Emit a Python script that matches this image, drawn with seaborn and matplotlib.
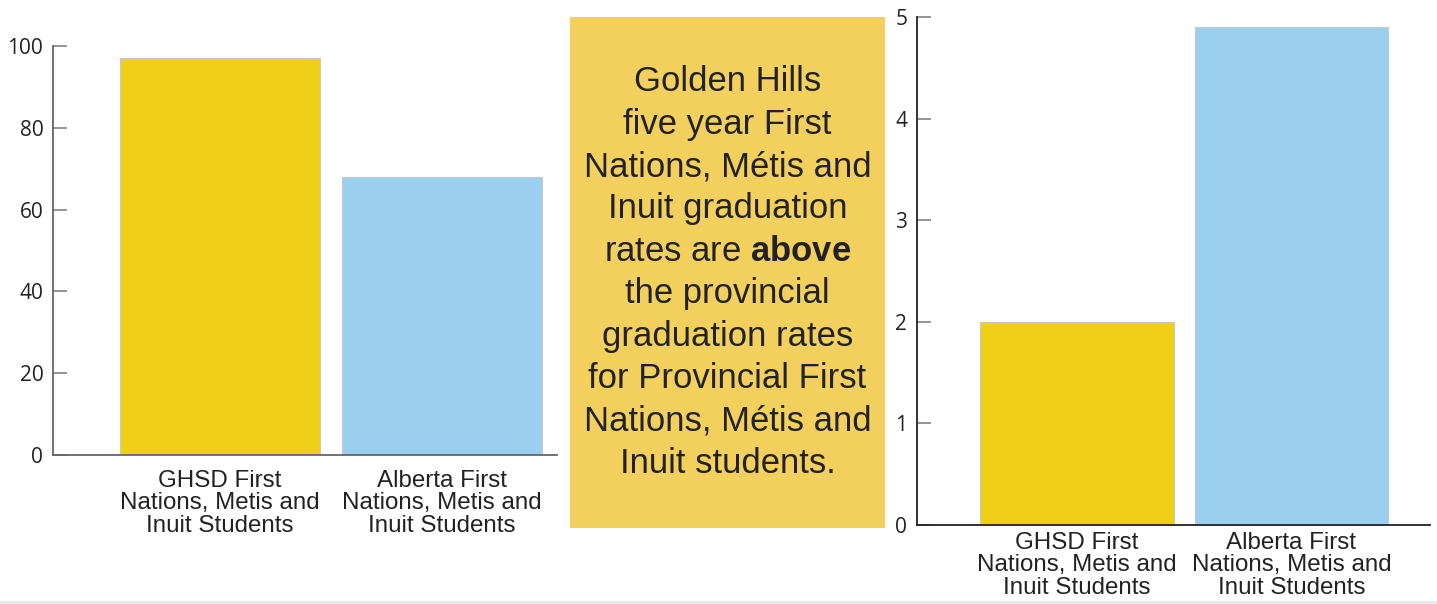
import matplotlib
matplotlib.use("Agg")
import matplotlib.pyplot as plt
import seaborn as sns
import pandas as pd
from matplotlib.patches import Rectangle

# ---- data ----
categories = ["GHSD First\nNations, Metis and\nInuit Students",
              "Alberta First\nNations, Metis and\nInuit Students"]
left_values = [97, 68]     # five-year graduation rate (%)
right_values = [2.0, 4.9]  # second chart values
bar_colors = ["#F0D016", "#9BCFEF"]
left_yticks = [0, 20, 40, 60, 80, 100]
right_yticks = [0, 1, 2, 3, 4, 5]
box_lines = ["Golden Hills", "five year First", "Nations, Métis and",
             "Inuit graduation", r"rates are $\mathbf{above}$", "the provincial",
             "graduation rates", "for Provincial First", "Nations, Métis and",
             "Inuit students."]

sns.set_theme(style="white")
plt.rcParams["mathtext.fontset"] = "custom"
plt.rcParams["mathtext.rm"] = "Liberation Sans"
plt.rcParams["mathtext.bf"] = "Liberation Sans:bold"

W, H = 1437, 604
fig = plt.figure(figsize=(W / 100, H / 100), dpi=100)
fig.patch.set_facecolor("white")


def fbox(x0, y0, x1, y1):
    return [x0 / W, 1 - y1 / H, (x1 - x0) / W, (y1 - y0) / H]


def draw(ax, values, yticks, spine_color, xlim, xpad):
    df = pd.DataFrame({"cat": categories, "val": values})
    sns.barplot(data=df, x="cat", y="val", hue="cat", palette=bar_colors,
                width=0.9, edgecolor="#c8c8c8", linewidth=0.8, legend=False,
                ax=ax, saturation=1)
    ax.set_ylim(yticks[0], yticks[-1])
    ax.set_yticks(yticks)
    ax.set_xlim(*xlim)
    ax.set_xlabel("")
    ax.set_ylabel("")
    ax.set_facecolor("none")
    for s in ["top", "right"]:
        ax.spines[s].set_visible(False)
    for s in ["left", "bottom"]:
        ax.spines[s].set_color(spine_color)
        ax.spines[s].set_linewidth(1.3)
    ax.tick_params(axis="y", left=True, direction="in", length=10, width=1.1,
                   color="#777777", pad=7, labelsize=15, labelcolor="#222222")
    ax.tick_params(axis="x", bottom=False, length=0, pad=xpad, labelcolor="#222222")
    for lab in ax.get_yticklabels():
        lab.set_fontfamily("Open Sans")
    for lab in ax.get_xticklabels():
        lab.set_fontfamily("Liberation Sans")
        lab.set_fontsize(17.4)
        lab.set_linespacing(1.05)


ax1 = fig.add_axes(fbox(53, 46, 557, 455))
draw(ax1, left_values, left_yticks, "#666666", (-0.752, 1.518), 10.5)

ax2 = fig.add_axes(fbox(917, 17, 1430, 525))
draw(ax2, right_values, right_yticks, "#222222", (-0.746, 1.646), 4.7)

# text box
axb = fig.add_axes(fbox(570, 17, 885, 528))
axb.set_facecolor("#F3D05E")
axb.set_xticks([])
axb.set_yticks([])
for s in axb.spines.values():
    s.set_visible(False)
axb.text(0.5, 0.5, "\n".join(box_lines), ha="center", va="center",
         transform=axb.transAxes, fontsize=24.9, family="Liberation Sans",
         color="#222222", linespacing=1.36)

# bottom light strip
fig.patches.append(Rectangle((0, 0), 1, 3 / H, transform=fig.transFigure,
                             facecolor="#e6eaec", edgecolor="none"))

fig.savefig("out.png", dpi=100)
